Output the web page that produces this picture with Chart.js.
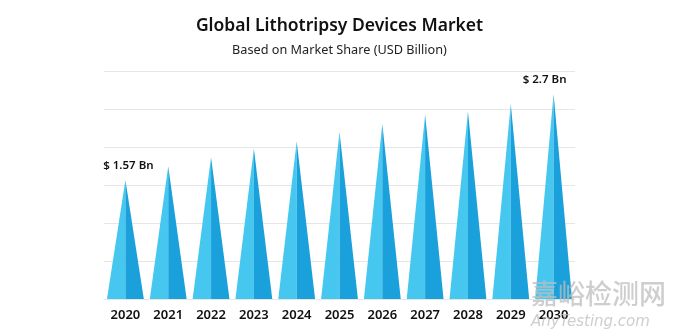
<!DOCTYPE html>
<html>
<head>
<meta charset="utf-8">
<script src="https://cdn.jsdelivr.net/npm/chart.js@4.4.1/dist/chart.umd.min.js"></script>
<style>
  html, body { margin: 0; padding: 0; background: #fff; }
  #wrap { width: 680px; height: 335px; position: relative; }
</style>
</head>
<body>
<div id="wrap"><canvas id="marketChart"></canvas></div>
<script>
// data
const years = ['2020', '2021', '2022', '2023', '2024', '2025', '2026', '2027', '2028', '2029', '2030'];
const marketSize = [1.57, 1.75, 1.87, 1.98, 2.08, 2.20, 2.31, 2.43, 2.47, 2.57, 2.7];
const valueLabels = ['$ 1.57 Bn', '', '', '', '', '', '', '', '', '', '$ 2.7 Bn'];

const lightBlue = '#45c7f0';
const darkBlue = '#1aa0da';
const fontFamily = '"Noto Sans", "Open Sans", sans-serif';

// draws each bar as a two-tone pyramid using the bar element geometry
const pyramidPlugin = {
  id: 'pyramids',
  afterDatasetsDraw(chart) {
    const ctx = chart.ctx;
    const meta = chart.getDatasetMeta(0);
    meta.data.forEach(bar => {
      const half = bar.width / 2;
      ctx.save();
      ctx.fillStyle = lightBlue;
      ctx.beginPath();
      ctx.moveTo(bar.x - half, bar.base);
      ctx.lineTo(bar.x, bar.y);
      ctx.lineTo(bar.x, bar.base);
      ctx.closePath();
      ctx.fill();
      ctx.fillStyle = darkBlue;
      ctx.beginPath();
      ctx.moveTo(bar.x, bar.base);
      ctx.lineTo(bar.x, bar.y);
      ctx.lineTo(bar.x + half, bar.base);
      ctx.closePath();
      ctx.fill();
      ctx.restore();
    });
  }
};

const labelPlugin = {
  id: 'valueLabels',
  afterDatasetsDraw(chart) {
    const ctx = chart.ctx;
    const meta = chart.getDatasetMeta(0);
    ctx.save();
    ctx.font = '600 11.5px ' + fontFamily;
    ctx.fillStyle = '#111';
    ctx.textAlign = 'center';
    ctx.textBaseline = 'middle';
    meta.data.forEach((bar, i) => {
      if (!valueLabels[i]) return;
      const shift = i === meta.data.length - 1 ? -9 : 3;
      ctx.fillText(valueLabels[i], bar.x + shift, bar.y - 14);
    });
    ctx.restore();
  }
};

const watermarkPlugin = {
  id: 'watermark',
  afterDraw(chart) {
    const ctx = chart.ctx;
    ctx.save();
    ctx.fillStyle = 'rgba(190, 190, 190, 0.75)';
    ctx.textAlign = 'left';
    ctx.textBaseline = 'middle';
    ctx.font = '500 27px "Noto Sans CJK SC", sans-serif';
    ctx.fillText('嘉峪检测网', 531, 294);
    ctx.font = 'italic 15px "DejaVu Sans", sans-serif';
    ctx.fillText('AnyTesting.com', 531, 322);
    ctx.restore();
  }
};

const ctx = document.getElementById('marketChart').getContext('2d');
const marketChart = new Chart(ctx, {
  type: 'bar',
  data: {
    labels: years,
    datasets: [{
      label: 'Market Size (USD Billion)',
      data: marketSize,
      backgroundColor: 'rgba(0,0,0,0)',
      borderWidth: 0,
      barPercentage: 0.86,
      categoryPercentage: 1
    }]
  },
  options: {
    responsive: true,
    maintainAspectRatio: false,
    animation: false,
    layout: {
      padding: { left: 104, right: 105, top: 0, bottom: 4 }
    },
    plugins: {
      legend: { display: false },
      tooltip: { enabled: false },
      title: {
        display: true,
        text: 'Global Lithotripsy Devices Market',
        color: '#111',
        font: { family: fontFamily, size: 17.5, weight: '600' },
        padding: { top: 16, bottom: 6 }
      },
      subtitle: {
        display: true,
        text: 'Based on Market Share (USD Billion)',
        color: '#222',
        font: { family: fontFamily, size: 12.7, weight: 'normal' },
        padding: { top: 0, bottom: 13 }
      }
    },
    scales: {
      y: {
        min: 0,
        max: 3,
        ticks: { display: false, stepSize: 0.5 },
        grid: { color: '#e6e6e6', drawTicks: false },
        border: { display: false }
      },
      x: {
        grid: { display: false, drawTicks: false },
        border: { display: false },
        ticks: {
          color: '#111',
          padding: 8,
          font: { family: fontFamily, size: 13, weight: '600' }
        }
      }
    }
  },
  plugins: [pyramidPlugin, labelPlugin, watermarkPlugin]
});
</script>
</body>
</html>
